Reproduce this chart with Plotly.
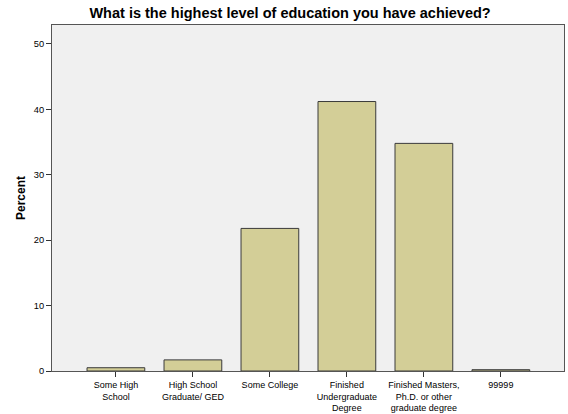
import plotly.graph_objects as go

categories = ["Some High<br>School", "High School<br>Graduate/ GED", "Some College",
              "Finished<br>Undergraduate<br>Degree", "Finished Masters,<br>Ph.D. or other<br>graduate degree", "99999"]
percent = [0.5, 1.7, 21.8, 41.2, 34.8, 0.2]
y_ticks = [0, 10, 20, 30, 40, 50]

fig = go.Figure(go.Bar(
    x=list(range(len(categories))), y=percent,
    marker=dict(color="#D3CE97", line=dict(color="#3a3a3a", width=1)),
    width=0.75,
))

fig.update_layout(
    width=568, height=414,
    margin=dict(l=52, r=4, t=25, b=43),
    paper_bgcolor="white", plot_bgcolor="#F0F0F0",
    font=dict(family="Liberation Sans, Arial, sans-serif", color="#000000"),
    title=dict(text="<b>What is the highest level of education you have achieved?</b>",
               x=0.465, xref="paper", xanchor="center", y=1 - 13 / 414, yanchor="middle",
               font=dict(size=14.5, color="#000000")),
    showlegend=False,
)
fig.update_xaxes(
    tickmode="array", tickvals=list(range(len(categories))), ticktext=categories,
    range=[-0.83, 5.82], showline=True, linecolor="#555555", linewidth=1, mirror=True,
    ticks="outside", ticklen=5, tickcolor="#333333", showgrid=False,
    tickfont=dict(size=9, color="#000000"), zeroline=False, automargin=False,
)
fig.update_yaxes(
    range=[0, 52.9], tickvals=y_ticks, showline=True, linecolor="#555555", linewidth=1, mirror=True,
    ticks="outside", ticklen=5, tickcolor="#333333", showgrid=False, zeroline=False,
    tickfont=dict(size=9.3, color="#000000"), automargin=False,
    title=dict(text="<b>Percent</b>", font=dict(size=12, color="#000000"), standoff=5),
)
fig.write_html("out.html", config={"displayModeBar": False},
               post_script="document.body.style.margin='0';document.body.style.overflow='hidden';")
